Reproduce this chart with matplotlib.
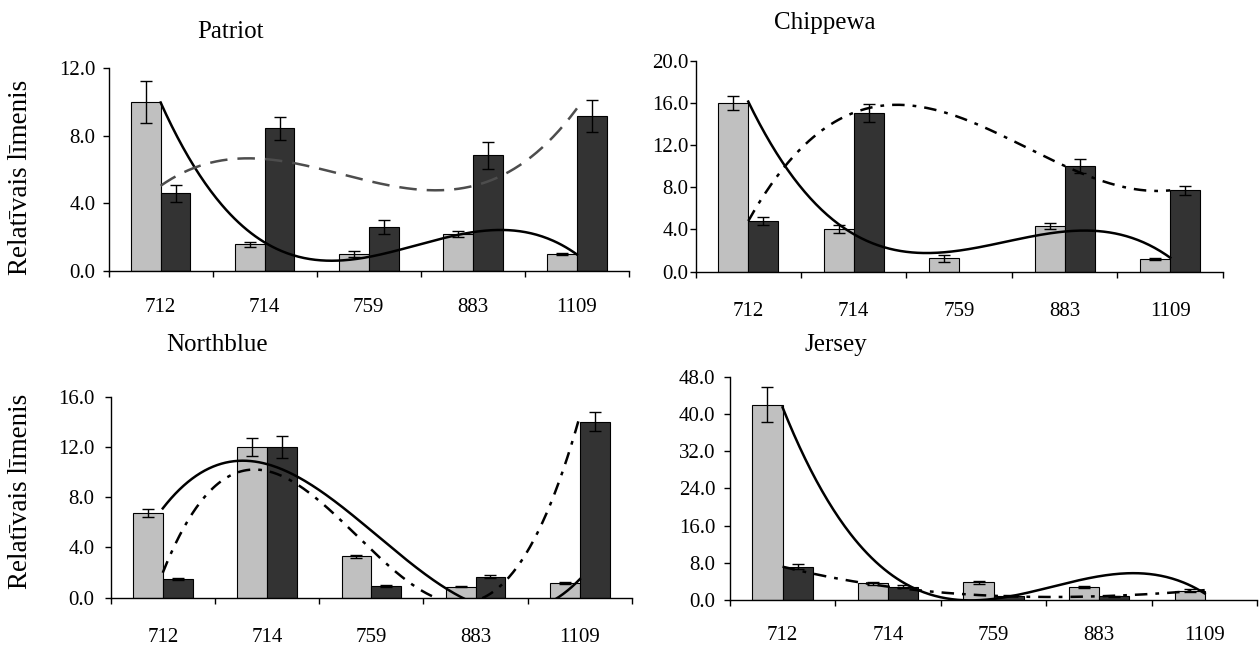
import numpy as np
import matplotlib
matplotlib.use('Agg')
from matplotlib import pyplot as plt

nan = np.nan
genes = ['712', '714', '759', '883', '1109']

# light bars (first sample) and dark bars (second sample), with error bars
patriot_a = [10.0, 1.56, 0.99, 2.17, 0.99]
patriot_a_err = [1.27, 0.15, 0.20, 0.20, 0.08]
patriot_b = [4.58, 8.44, 2.59, 6.84, 9.17]
patriot_b_err = [0.50, 0.67, 0.42, 0.80, 0.97]

chippewa_a = [16.0, 4.05, 1.26, 4.30, 1.20]
chippewa_a_err = [0.68, 0.35, 0.33, 0.30, 0.05]
chippewa_b = [4.80, 15.07, nan, 10.02, 7.71]
chippewa_b_err = [0.35, 0.85, 0.0, 0.65, 0.40]

northblue_a = [6.77, 12.0, 3.29, 0.88, 1.14]
northblue_a_err = [0.33, 0.70, 0.10, 0.05, 0.08]
northblue_b = [1.51, 12.0, 0.96, 1.67, 14.0]
northblue_b_err = [0.08, 0.85, 0.08, 0.10, 0.75]

jersey_a = [42.0, 3.58, 3.80, 2.72, 2.00]
jersey_a_err = [3.70, 0.30, 0.30, 0.20, 0.30]
jersey_b = [7.16, 2.87, 0.90, 0.80, nan]
jersey_b_err = [0.55, 0.30, 0.10, 0.10, 0.0]

plt.rcParams['font.family'] = 'Liberation Serif'

x = np.arange(1, 6)
w = 1 / 3.5  # bar width with a 150% gap


def trend(y):
    # cubic trendline over the category index, skipping empty cells
    y = np.asarray(y, dtype=float)
    ok = ~np.isnan(y)
    coef = np.polyfit(x[ok], y[ok], min(3, ok.sum() - 1))
    xs = np.linspace(1, 5, 300)
    return xs, np.polyval(coef, xs)


def bars(ax, xpos, y, err, color):
    y = np.asarray(y, dtype=float)
    err = np.asarray(err, dtype=float)
    ok = ~np.isnan(y)
    ax.bar(xpos[ok], y[ok], width=w, color=color, edgecolor='black',
           linewidth=0.8, zorder=2)
    ax.errorbar(xpos[ok], y[ok], yerr=err[ok], fmt='none', ecolor='black',
                elinewidth=1, capsize=4, capthick=1, zorder=3)


fig = plt.figure(figsize=(12.6, 6.45), dpi=100)

# name, data, y max, y step, axes rect, title centre (px), ylabel coords,
# y tick pad, x label pad
panels = [
    ('Patriot', patriot_a, patriot_a_err, patriot_b, patriot_b_err, 12, 4,
     [0.0862, 0.5803, 0.413, 0.3138], (230, 32), (-0.145, 0.46), 5, 20),
    ('Chippewa', chippewa_a, chippewa_a_err, chippewa_b, chippewa_b_err, 20, 4,
     [0.552, 0.5788, 0.4186, 0.3271], (825, 23), None, 0.5, 21.5),
    ('Northblue', northblue_a, northblue_a_err, northblue_b, northblue_b_err, 16, 4,
     [0.0878, 0.0733, 0.4138, 0.3116], (217, 345), (-0.149, 0.53), 7, 22),
    ('Jersey', jersey_a, jersey_a_err, jersey_b, jersey_b_err, 48, 8,
     [0.5792, 0.0698, 0.4188, 0.3462], (836, 345), None, 6, 18.5),
]

for name, a, a_err, b, b_err, ymax, step, rect, tpos, ylab, ypad, xpad in panels:
    ax = fig.add_axes(rect)
    bars(ax, x - w / 2, a, a_err, '#c0c0c0')
    bars(ax, x + w / 2, b, b_err, '#333333')

    xs, ys = trend(a)
    ax.plot(xs, ys, color='black', lw=1.8, zorder=4)
    xs, ys = trend(b)
    if name == 'Patriot':
        ax.plot(xs, ys, color='#4d4d4d', lw=1.8, dashes=(7, 4), zorder=4)
    else:
        ax.plot(xs, ys, color='black', lw=1.8, dashes=(5, 3.2, 1.5, 3.2), zorder=4)

    ax.set_xlim(0.5, 5.5)
    ax.set_ylim(0, ymax)
    ax.set_yticks(np.arange(0, ymax + 0.1, step))
    ax.set_yticklabels(['%.1f' % v for v in np.arange(0, ymax + 0.1, step)])
    ax.set_xticks(np.arange(0.5, 5.6, 1))
    ax.set_xticklabels([])
    ax.set_xticks(x, minor=True)
    ax.set_xticklabels(genes, minor=True)
    ax.tick_params(axis='x', which='minor', length=0, pad=xpad, labelsize=15)
    ax.tick_params(axis='x', which='major', length=4.5, direction='out', width=1)
    ax.tick_params(axis='y', length=4.5, direction='out', width=1, labelsize=15,
                   pad=ypad)
    for s in ('top', 'right'):
        ax.spines[s].set_visible(False)
    for s in ('left', 'bottom'):
        ax.spines[s].set_linewidth(1)
    ax.patch.set_alpha(0)

    fig.text(tpos[0] / 1260, 1 - tpos[1] / 645, name, fontsize=18,
             ha='center', va='center')
    if ylab:
        ax.set_ylabel('Relatīvais līmenis', fontsize=19.5)
        ax.yaxis.set_label_coords(*ylab)

fig.savefig('out.png', dpi=100)
